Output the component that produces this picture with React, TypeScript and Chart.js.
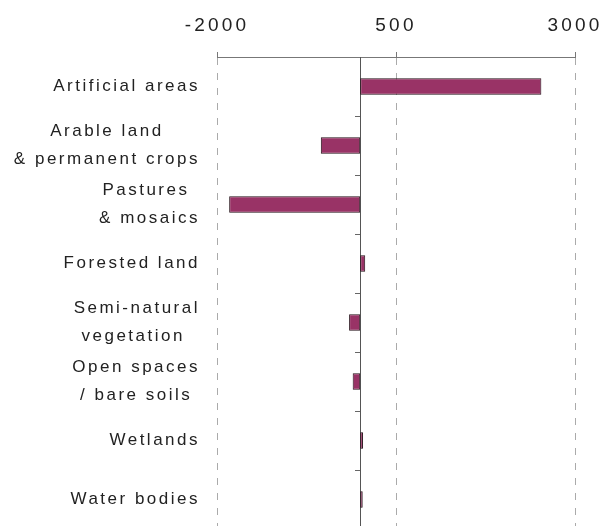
import React, { useEffect, useRef } from "react";
import { Chart, registerables } from "chart.js";

Chart.register(...registerables);

const categories: string[][] = [
  ["Artificial areas"],
  ["Arable land", "& permanent crops"],
  ["Pastures ", "& mosaics"],
  ["Forested land"],
  ["Semi-natural", "vegetation "],
  ["Open spaces", "/ bare soils"],
  ["Wetlands"],
  ["Water bodies"],
];

const changeValues: number[] = [2530, -550, -1830, 70, -155, -105, 40, 35];

const xMin = -2000;
const xMax = 3000;
const xStep = 2500;

const FONT = '"Liberation Sans", Arial, Helvetica, sans-serif';
const TICK_LS = "3.2px";
const LABEL_LS = "2.5px";
const LABEL_SIZE = 17;
const LINE_GAP = 28;

const labelPlugin = {
  id: "catLabels",
  beforeDraw(chart: any) {
    chart.ctx.letterSpacing = TICK_LS;
  },
  afterDraw(chart: any) {
    const ctx = chart.ctx;
    const y = chart.scales.y;
    ctx.save();
    ctx.font = `${LABEL_SIZE}px ${FONT}`;
    ctx.letterSpacing = LABEL_LS;
    ctx.fillStyle = "#222";
    ctx.textAlign = "center";
    ctx.textBaseline = "middle";
    const right = chart.chartArea.left - 17;
    categories.forEach((lines, i) => {
      const cy = y.getPixelForValue(i);
      const maxW = Math.max(...lines.map((l) => ctx.measureText(l).width));
      const cx = right - maxW / 2;
      lines.forEach((l, j) => {
        ctx.fillText(l, cx, cy + (j - (lines.length - 1) / 2) * LINE_GAP);
      });
    });
    ctx.restore();
  },
};

export default function App() {
  const ref = useRef<HTMLCanvasElement | null>(null);

  useEffect(() => {
    if (!ref.current) return;
    const chart = new Chart(ref.current, {
      type: "bar",
      data: {
        labels: categories,
        datasets: [
          {
            data: changeValues,
            backgroundColor: "#993366",
            borderColor: "#241018",
            borderWidth: 1,
            borderSkipped: false,
            categoryPercentage: 1,
            barPercentage: 0.28,
          },
        ],
      },
      options: {
        indexAxis: "y",
        animation: false,
        responsive: false,
        devicePixelRatio: 1,
        layout: { padding: { top: 0, left: 0, right: 28, bottom: 5 } },
        plugins: { legend: { display: false }, tooltip: { enabled: false } },
        scales: {
          x: {
            type: "linear",
            position: "top",
            min: xMin,
            max: xMax,
            ticks: {
              stepSize: xStep,
              color: "#222",
              padding: 2,
              font: { family: FONT, size: 19, lineHeight: 2.6 },
              callback: (v: any) => String(v),
            },
            grid: {
              color: "#aaaaaa",
              lineWidth: 1,
              tickLength: 5,
              tickColor: "#777777",
              drawOnChartArea: true,
            },
            border: { display: true, color: "#777777", width: 1, dash: [7, 8] },
            afterFit: (s: any) => {
              s.height = 57;
            },
          } as any,
          y: {
            type: "category",
            position: "left",
            ticks: { display: false },
            grid: { display: false },
            border: { display: false },
            afterFit: (s: any) => {
              s.width = 217;
            },
          } as any,
          y2: {
            type: "category",
            axis: "y",
            position: { x: 0 },
            labels: categories,
            ticks: { display: false },
            grid: {
              display: true,
              offset: true,
              drawOnChartArea: false,
              drawTicks: true,
              tickLength: 5,
              color: "#666666",
              tickColor: "#666666",
            },
            border: { display: true, color: "#555555", width: 1 },
          } as any,
        },
      } as any,
      plugins: [labelPlugin],
    });
    return () => chart.destroy();
  }, []);

  return (
    <div
      style={{
        position: "fixed",
        left: 0,
        top: 0,
        width: 603,
        height: 526,
        overflow: "hidden",
        background: "#ffffff",
      }}
    >
      <canvas ref={ref} width={603} height={534} style={{ display: "block" }} />
    </div>
  );
}
